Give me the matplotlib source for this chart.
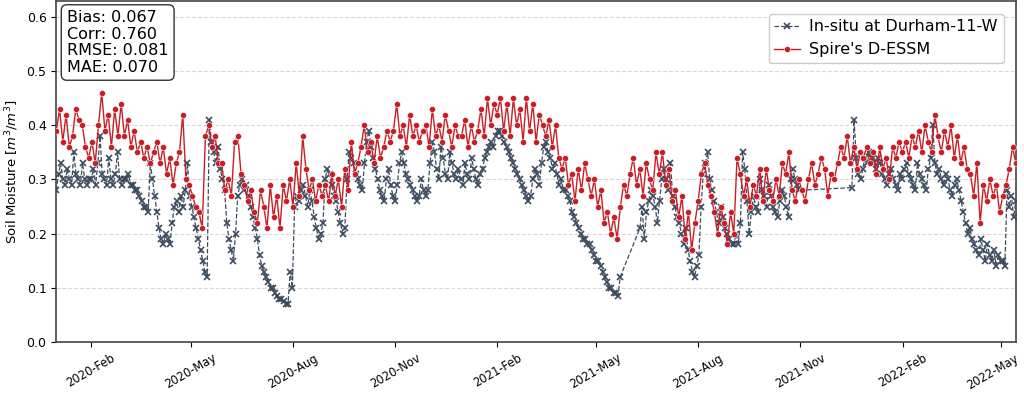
import numpy as np
import pandas as pd
import matplotlib
matplotlib.use("Agg")
import matplotlib.pyplot as plt
import matplotlib.dates as mdates
import matplotlib.transforms as mtransforms

# in-situ soil moisture, sampled every 2 days from 2020-01-01 (nan = missing)
insitu_2020 = [
    0.28, 0.31, 0.33, 0.30, 0.29, 0.32, 0.30, 0.29, 0.35, 0.31, 0.30, 0.29, 0.33, 0.30, 0.29, 0.30,
    0.30, 0.32, 0.29, 0.33, 0.38, 0.31, 0.30, 0.29, 0.34, 0.30, 0.29, 0.31, 0.35, 0.30, 0.29,
    0.30, 0.30, 0.31, 0.29, 0.29, 0.28, 0.28, 0.27, 0.26, 0.25, 0.25, 0.24, 0.33, 0.30, 0.27, 0.24,
    0.21, 0.19, 0.18, 0.20, 0.19, 0.18, 0.22, 0.25, 0.26, 0.24, 0.27, 0.25, 0.28, 0.33, 0.27,
    0.25, 0.23, 0.21, 0.19, 0.17, 0.15, 0.13, 0.12, 0.41, 0.37, 0.35, 0.33, 0.36, 0.32, 0.30, 0.28,
    0.22, 0.19, 0.17, 0.15, 0.20, 0.27, 0.29, 0.30, 0.28, 0.29, 0.27, 0.25, 0.23, 0.21, 0.19,
    0.16, 0.14, 0.13, 0.12, 0.11, 0.10, 0.10, 0.09, 0.085, 0.08, 0.08, 0.075, 0.07, 0.07, 0.13, 0.10,
    0.25, 0.27, 0.26, 0.28, 0.29, 0.27, 0.25, 0.28, 0.26, 0.23, 0.21, 0.19, 0.20, 0.22, 0.30, 0.32,
    0.31, 0.29, 0.27, 0.26, 0.24, 0.22, 0.20, 0.21, 0.30, 0.35, 0.34, 0.33, 0.31, 0.30, 0.29,
    0.28, 0.33, 0.37, 0.39, 0.36, 0.34, 0.32, 0.30, 0.28, 0.27, 0.26, 0.30, 0.32, 0.29, 0.27, 0.26,
    0.29, 0.33, 0.35, 0.33, 0.31, 0.30, 0.29, 0.28, 0.27, 0.26, 0.27, 0.30, 0.28, 0.27, 0.28,
    0.33, 0.37, 0.35, 0.32, 0.30, 0.36, 0.34, 0.31, 0.30, 0.35, 0.33, 0.31, 0.30, 0.32, 0.30, 0.29,
]
insitu_2021 = [
    0.33, 0.31, 0.30, 0.34, 0.32, 0.30, 0.29, 0.31, 0.32, 0.34, 0.35, 0.36, 0.37, 0.36, 0.38, 0.39,
    0.39, 0.38, 0.37, 0.36, 0.35, 0.34, 0.33, 0.32, 0.31, 0.30, 0.29, 0.28, 0.27, 0.26,
    0.27, 0.30, 0.32, 0.31, 0.29, 0.33, 0.36, 0.37, 0.35, 0.34, 0.32, 0.33, 0.31, 0.29, 0.30, 0.28,
    0.28, 0.27, 0.26, 0.24, 0.23, 0.22, 0.21, 0.20, 0.19, 0.19, 0.18, 0.18, 0.17, 0.16, 0.15,
    0.15, 0.14, 0.13, 0.12, 0.11, 0.10, 0.10, 0.09, 0.09, 0.085, 0.12, np.nan, np.nan, np.nan, np.nan, np.nan,
    np.nan, np.nan, np.nan, 0.21, 0.25, 0.19, 0.24, 0.26, 0.28, 0.27, 0.25, 0.22, 0.26, 0.30, 0.32,
    0.30, 0.28, 0.33, 0.27, 0.25, 0.23, 0.22, 0.20, 0.18, 0.21, 0.17, 0.15, 0.13, 0.12, 0.14, 0.16,
    0.25, 0.31, 0.33, 0.35, 0.30, 0.28, 0.26, 0.24, 0.22, 0.25, 0.23, 0.21, 0.20, 0.19, 0.18, 0.18,
    0.20, 0.18, 0.22, 0.35, 0.32, 0.26, 0.20, 0.24, 0.27, 0.25, 0.24, 0.30, 0.28, 0.27, 0.25,
    0.29, 0.27, 0.25, 0.24, 0.23, 0.26, 0.28, 0.27, 0.25, 0.23, 0.30, 0.32, 0.30, 0.29, 0.28, np.nan,
    np.nan, np.nan, np.nan, np.nan, np.nan, np.nan, np.nan, np.nan, np.nan, np.nan, np.nan, np.nan, np.nan, np.nan, np.nan,
    np.nan, np.nan, np.nan, np.nan, np.nan, np.nan, np.nan, 0.285, 0.41, 0.34, 0.31, 0.30, 0.32, 0.34, 0.33, 0.35,
]
insitu_2022 = [
    0.34, 0.33, 0.32, 0.34, 0.33, 0.31, 0.30, 0.29, 0.31, 0.32, 0.30, 0.29, 0.28, 0.31, 0.30,
    0.32, 0.33, 0.31, 0.30, 0.29, 0.28, 0.33, 0.31, 0.30, 0.29, 0.28, 0.32, 0.34, 0.40,
    0.33, 0.31, 0.32, 0.30, 0.29, 0.31, 0.30, 0.28, 0.27, 0.29, 0.30, 0.28, 0.26, 0.24, 0.22, 0.20,
    0.21, 0.19, 0.18, 0.17, 0.16, 0.19, 0.17, 0.15, 0.18, 0.16, 0.15, 0.17, 0.14, 0.16, 0.15,
    0.15, 0.14, 0.28, 0.25, 0.27, 0.23, 0.26,
]

# Spire D-ESSM estimates, every 3 days from 2020-01-01
essm_2020 = [
    0.39, 0.43, 0.37, 0.42, 0.36, 0.38, 0.43, 0.41, 0.40, 0.36, 0.34,
    0.37, 0.33, 0.40, 0.46, 0.39, 0.42, 0.36, 0.43, 0.38,
    0.44, 0.38, 0.41, 0.36, 0.39, 0.35, 0.37, 0.34, 0.36, 0.33, 0.35,
    0.37, 0.33, 0.36, 0.31, 0.34, 0.29, 0.33, 0.35, 0.42, 0.30,
    0.29, 0.27, 0.25, 0.24, 0.21, 0.38, 0.40, 0.36, 0.38, 0.33,
    0.33, 0.28, 0.30, 0.27, 0.37, 0.38, 0.31, 0.29, 0.26, 0.28,
    0.24, 0.22, 0.28, 0.25, 0.21, 0.29, 0.23, 0.27, 0.21, 0.29, 0.26,
    0.30, 0.25, 0.33, 0.27, 0.38, 0.32, 0.28, 0.30, 0.26, 0.29, 0.27,
    0.29, 0.26, 0.31, 0.27, 0.30, 0.25, 0.32, 0.28, 0.37, 0.31,
    0.33, 0.36, 0.40, 0.35, 0.37, 0.33, 0.38, 0.34, 0.36, 0.39, 0.37,
    0.39, 0.44, 0.38, 0.40, 0.36, 0.42, 0.38, 0.40, 0.37, 0.39,
    0.40, 0.36, 0.43, 0.38, 0.40, 0.37, 0.42, 0.39, 0.36, 0.40, 0.38,
]
essm_2021 = [
    0.38, 0.41, 0.36, 0.40, 0.37, 0.39, 0.43, 0.38, 0.45, 0.40, 0.44,
    0.42, 0.45, 0.39, 0.44, 0.38, 0.45, 0.40, 0.43, 0.37,
    0.45, 0.39, 0.44, 0.37, 0.42, 0.40, 0.38, 0.41, 0.36, 0.40, 0.34,
    0.32, 0.34, 0.29, 0.31, 0.26, 0.32, 0.28, 0.33, 0.30, 0.27,
    0.30, 0.25, 0.28, 0.22, 0.24, 0.20, 0.23, 0.19, 0.25, 0.29, 0.27,
    0.31, 0.34, 0.29, 0.32, 0.27, 0.33, 0.30, 0.28, 0.35, 0.31,
    0.35, 0.29, 0.32, 0.26, 0.28, 0.23, 0.27, 0.19, 0.24, 0.17, 0.22,
    0.26, 0.31, 0.33, 0.29, 0.27, 0.24, 0.20, 0.25, 0.22, 0.18, 0.24,
    0.20, 0.34, 0.31, 0.27, 0.30, 0.25, 0.29, 0.27, 0.32, 0.26,
    0.32, 0.28, 0.26, 0.30, 0.27, 0.33, 0.31, 0.35, 0.28, 0.26, 0.30,
    0.28, 0.26, 0.30, 0.33, 0.29, 0.31, 0.34, 0.32, 0.27, 0.31,
    0.30, 0.33, 0.36, 0.34, 0.38, 0.33, 0.36, 0.32, 0.35, 0.34, 0.36,
]
essm_2022 = [
    0.33, 0.35, 0.31, 0.36, 0.32, 0.34, 0.30, 0.36, 0.34, 0.37, 0.35,
    0.37, 0.34, 0.38, 0.36, 0.39, 0.35, 0.40, 0.37, 0.35,
    0.42, 0.38, 0.35, 0.39, 0.36, 0.40, 0.34, 0.38, 0.33, 0.36, 0.32,
    0.31, 0.27, 0.33, 0.22, 0.29, 0.26, 0.30, 0.27, 0.29, 0.24,
    0.27, 0.29, 0.32, 0.36, 0.33,
]

start_date = "2020-01-01"
end_date = "2022-05-14"
stats_text = "Bias: 0.067\nCorr: 0.760\nRMSE: 0.081\nMAE: 0.070"

insitu = pd.Series(insitu_2020 + insitu_2021 + insitu_2022, dtype=float)
insitu.index = pd.date_range(start_date, end_date, periods=len(insitu))
insitu = insitu.dropna()

essm = pd.Series(essm_2020 + essm_2021 + essm_2022, dtype=float)
essm.index = pd.date_range(start_date, end_date, periods=len(essm))

fig = plt.figure(figsize=(10.24, 3.99), dpi=100)
ax = fig.add_axes([0.055, 0.143, 0.937, 0.855])

ax.plot(insitu.index, insitu.values, linestyle="--", color="#3d4b5f", linewidth=0.9,
        marker="x", markersize=5, markeredgewidth=1.2, label="In-situ at Durham-11-W", zorder=2)
ax.plot(essm.index, essm.values, linestyle="-", color="#c81e26", linewidth=1.0,
        marker="o", markersize=4.4, markeredgecolor="white", markeredgewidth=0.4,
        label="Spire's D-ESSM", zorder=3)

ax.set_xlim(pd.Timestamp(start_date), pd.Timestamp(end_date))
ax.set_ylim(0, 0.63)
ax.set_yticks(np.arange(0, 0.61, 0.1))
ax.yaxis.grid(True, linestyle="--", color="#d9d9d9", linewidth=0.8)
ax.set_axisbelow(True)

ax.xaxis.set_major_locator(mdates.MonthLocator(bymonth=[2, 5, 8, 11]))
ax.xaxis.set_major_formatter(mdates.DateFormatter("%Y-%b"))
plt.setp(ax.get_xticklabels(), rotation=30, fontsize=8.3)
ax.tick_params(axis="y", labelsize=9)

# nudge the last date label so it stays inside the figure
fig.canvas.draw()
last_label = ax.get_xticklabels()[-1]
last_label.set_transform(last_label.get_transform() +
                         mtransforms.ScaledTranslation(-6 / 72, 0, fig.dpi_scale_trans))

for spine in ax.spines.values():
    spine.set_color("#444444")
    spine.set_linewidth(1.2)

ax.set_ylabel("Soil Moisture [$m^3/m^3$]", fontsize=9.5)

ax.text(0.011, 0.972, stats_text, transform=ax.transAxes, fontsize=11.5, va="top", ha="left",
        linespacing=1.12,
        bbox=dict(boxstyle="round,pad=0.35", facecolor="white", edgecolor="#333333", linewidth=1))

ax.legend(loc="upper right", fontsize=11.5, framealpha=1, edgecolor="#cccccc",
          borderpad=0.35, handlelength=1.6, handletextpad=0.6, bbox_to_anchor=(0.9955, 0.985))

fig.savefig("out.png", dpi=100)
